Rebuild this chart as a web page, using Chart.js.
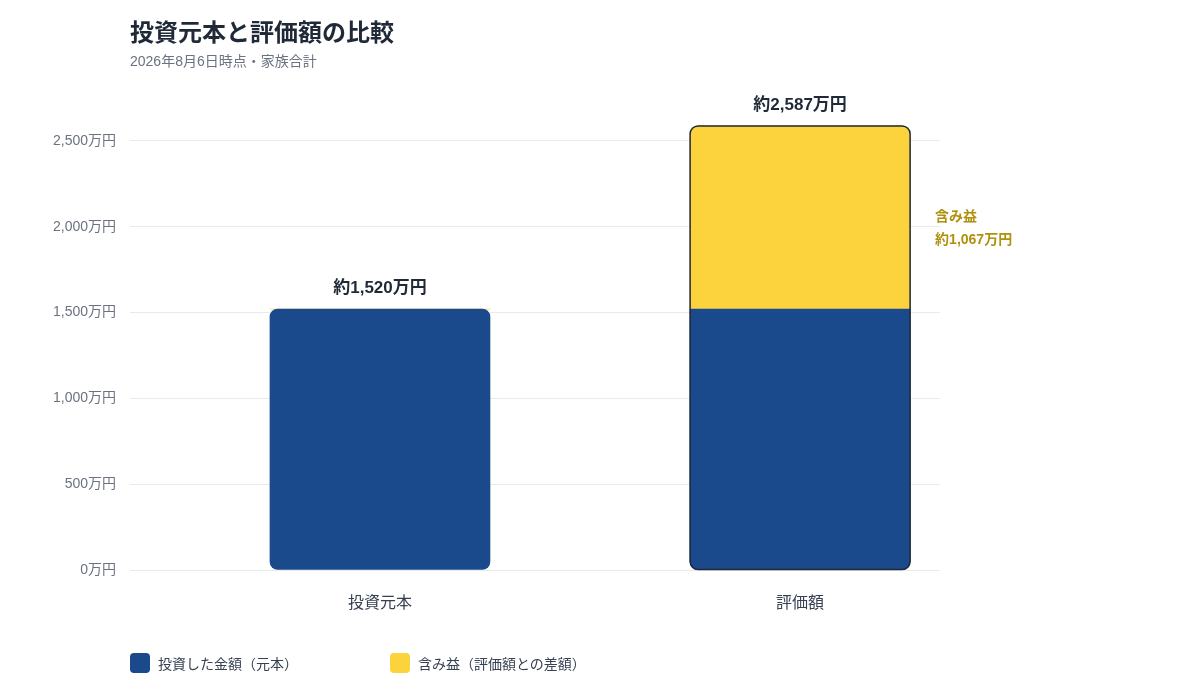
<!DOCTYPE html>
<html lang="ja">
<head>
<meta charset="utf-8">
<title>投資元本と評価額の比較</title>
<script src="https://cdn.jsdelivr.net/npm/chart.js@4.4.1/dist/chart.umd.min.js"></script>
<style>
  body {
    margin: 0;
    background: #ffffff;
    font-family: "Liberation Sans", "Noto Sans CJK JP", sans-serif;
  }
  .wrap {
    position: relative;
    width: 1200px;
    height: 700px;
  }
  #chart {
    position: absolute;
    left: 0;
    top: 0;
  }
  .title {
    position: absolute;
    left: 130px;
    top: 13px;
    margin: 0;
    font-size: 24px;
    font-weight: 700;
    color: #1f2937;
  }
  .subtitle {
    position: absolute;
    left: 130px;
    top: 50px;
    margin: 0;
    font-size: 14px;
    color: #6b7280;
  }
  .legend {
    position: absolute;
    top: 653px;
    left: 130px;
    display: flex;
    font-size: 14px;
    color: #374151;
  }
  .legend-item {
    display: flex;
    align-items: center;
    width: 260px;
  }
  .swatch {
    width: 20px;
    height: 20px;
    border-radius: 4px;
    margin-right: 8px;
  }
</style>
</head>
<body>
<div class="wrap">
  <canvas id="chart" width="1200" height="700"></canvas>
  <h1 class="title">投資元本と評価額の比較</h1>
  <p class="subtitle">2026年8月6日時点・家族合計</p>
  <div class="legend" id="legend"></div>
</div>
<script>
// Data (万円)
const categories = ["投資元本", "評価額"];
const principal = [1520, 1520];
const gain = [0, 1067];
const totals = [1520, 2587];
const yTicks = [0, 500, 1000, 1500, 2000, 2500];
const seriesNames = ["投資した金額（元本）", "含み益（評価額との差額）"];

const BLUE = "#1b4a8c";
const YELLOW = "#fdd33d";
const GOLD = "#b0900c";
const FONT = "'Liberation Sans', 'Noto Sans CJK JP', sans-serif";

// Legend (HTML)
const legend = document.getElementById("legend");
[BLUE, YELLOW].forEach(function (color, i) {
  const item = document.createElement("div");
  item.className = "legend-item";
  item.innerHTML =
    '<span class="swatch" style="background:' + color + '"></span>' + seriesNames[i];
  legend.appendChild(item);
});

// Labels above bars, gain note, and outline around the valuation bar
const barAnnotations = {
  id: "barAnnotations",
  afterDatasetsDraw(chart) {
    const ctx = chart.ctx;
    const blueMeta = chart.getDatasetMeta(0);
    const yellowMeta = chart.getDatasetMeta(1);

    // outline around stacked bar
    const top = yellowMeta.data[1];
    const bottom = blueMeta.data[1];
    const left = top.x - top.width / 2;
    ctx.save();
    ctx.strokeStyle = "#1f2937";
    ctx.lineWidth = 1.5;
    ctx.beginPath();
    ctx.roundRect(left, top.y, top.width, bottom.base - top.y, 8);
    ctx.stroke();
    ctx.restore();

    // totals
    ctx.save();
    ctx.font = "700 17px " + FONT;
    ctx.fillStyle = "#1f2937";
    ctx.textAlign = "center";
    ctx.textBaseline = "middle";
    categories.forEach(function (c, i) {
      const yPos = chart.scales.y.getPixelForValue(totals[i]);
      const bar = blueMeta.data[i];
      ctx.fillText("約" + totals[i].toLocaleString() + "万円", bar.x, yPos - 21);
    });

    // gain label next to the yellow segment
    const mid = (top.y + top.base) / 2;
    ctx.font = "700 14px " + FONT;
    ctx.fillStyle = GOLD;
    ctx.textAlign = "left";
    ctx.fillText("含み益", left + top.width + 25, mid);
    ctx.fillText("約" + gain[1].toLocaleString() + "万円", left + top.width + 25, mid + 23);
    ctx.restore();
  },
};

new Chart(document.getElementById("chart"), {
  type: "bar",
  data: {
    datasets: [
      {
        label: seriesNames[0],
        data: categories.map((c, i) => ({ x: i, y: principal[i] })),
        backgroundColor: BLUE,
        borderSkipped: false,
        borderRadius: function (context) {
          return context.dataIndex === 1
            ? { topLeft: 0, topRight: 0, bottomLeft: 8, bottomRight: 8 }
            : 8;
        },
        barThickness: 220,
      },
      {
        label: seriesNames[1],
        data: categories.map((c, i) => ({ x: i, y: gain[i] })),
        backgroundColor: YELLOW,
        borderSkipped: false,
        borderRadius: { topLeft: 8, topRight: 8, bottomLeft: 0, bottomRight: 0 },
        barThickness: 220,
      },
    ],
  },
  plugins: [barAnnotations],
  options: {
    responsive: false,
    animation: false,
    layout: {
      padding: { left: 0, right: 260, top: 55, bottom: 90 },
    },
    plugins: {
      legend: { display: false },
      tooltip: { enabled: false },
    },
    scales: {
      x: {
        type: "linear",
        stacked: true,
        offset: false,
        min: -0.595,
        max: 1.333,
        afterBuildTicks: function (scale) {
          scale.ticks = categories.map((c, i) => ({ value: i }));
        },
        afterFit: function (scale) {
          scale.height = 40;
        },
        ticks: {
          callback: function (value) {
            return categories[value];
          },
          color: "#374151",
          font: { size: 16, family: FONT },
          padding: 16,
          maxRotation: 0,
        },
        grid: { display: false },
        border: { display: false },
      },
      y: {
        stacked: true,
        min: 0,
        max: 3000,
        afterBuildTicks: function (scale) {
          scale.ticks = yTicks.map((v) => ({ value: v }));
        },
        afterFit: function (scale) {
          scale.width = 130;
        },
        ticks: {
          callback: function (value) {
            return value.toLocaleString() + "万円";
          },
          color: "#6b7280",
          font: { size: 14, family: FONT },
          padding: 14,
        },
        grid: {
          color: "#e8eaed",
          drawTicks: false,
        },
        border: { display: false },
      },
    },
  },
});
</script>
</body>
</html>
